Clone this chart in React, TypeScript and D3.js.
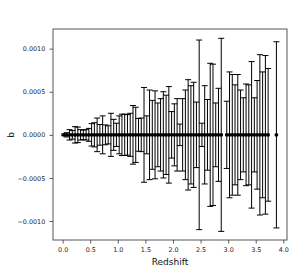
import React, { useRef, useEffect } from 'react'
import { select, scaleLinear, axisBottom, axisLeft, format } from 'd3'

// redshift bin centres and the half-width of each error bar (units of 1e-4)
const redshift = [
  0.025, 0.075, 0.125, 0.175, 0.225, 0.275, 0.325, 0.375, 0.425, 0.475,
  0.525, 0.575, 0.625, 0.675, 0.725, 0.775, 0.825, 0.875, 0.925, 0.975,
  1.025, 1.075, 1.125, 1.175, 1.225, 1.275, 1.325, 1.375, 1.425, 1.475,
  1.525, 1.575, 1.625, 1.675, 1.725, 1.775, 1.825, 1.875, 1.925, 1.975,
  2.025, 2.075, 2.125, 2.175, 2.225, 2.275, 2.325, 2.375, 2.425, 2.475,
  2.525, 2.575, 2.625, 2.675, 2.725, 2.775, 2.825, 2.875,
  2.975, 3.025, 3.075, 3.125, 3.175, 3.225, 3.275, 3.325, 3.375, 3.425,
  3.475, 3.525, 3.575, 3.625, 3.675, 3.725,
  3.875,
]
const bValue = redshift.map(() => 0)
const bError = [
  0.1, 0.25, 0.6, 0.5, 0.95, 0.9, 0.6, 0.55, 0.6, 0.75,
  1.3, 1.4, 1.95, 1.2, 2.2, 1.15, 1.05, 2.5, 1.8, 1.35,
  2.2, 2.4, 2.4, 2.35, 2.5, 3.4, 3.2, 1.9, 1.95, 5.5,
  2.2, 5.2, 4.0, 5.1, 3.7, 4.2, 5.0, 4.6, 5.6, 2.7,
  3.6, 4.2, 1.25, 4.2, 5.2, 6.4, 5.7, 6.1, 3.8, 11.0,
  1.35, 5.7, 4.1, 8.3, 8.2, 3.7, 5.4, 11.2,
  3.9, 7.3, 7.0, 5.8, 7.0, 5.2, 4.3, 5.9, 5.8, 8.5,
  4.3, 6.3, 9.3, 7.3, 9.2, 7.7,
  10.8,
]
const xTicks = [0, 0.5, 1, 1.5, 2, 2.5, 3, 3.5, 4]
const yTicks = [-0.001, -0.0005, 0, 0.0005, 0.001]

const width = 305
const height = 277
const margin = { top: 29, right: 18, bottom: 37, left: 53 }

const App = () => {
  const svgRef = useRef(null)

  useEffect(() => {
    const svg = select(svgRef.current)
    svg.selectAll('*').remove()

    const x = scaleLinear()
      .domain([-0.175, 4.067])
      .range([margin.left, width - margin.right])
    const y = scaleLinear()
      .domain([-0.00122, 0.001228])
      .range([height - margin.bottom, margin.top])

    const data = redshift.map((z, i) => ({ z, b: bValue[i], err: bError[i] * 1e-4 }))
    const cap = 3

    const bars = svg.append('g')
      .attr('stroke', '#000')
      .attr('stroke-width', 1)
    data.forEach(d => {
      const cx = x(d.z)
      bars.append('line')
        .attr('x1', cx).attr('x2', cx)
        .attr('y1', y(d.b - d.err)).attr('y2', y(d.b + d.err))
      bars.append('line')
        .attr('x1', cx - cap).attr('x2', cx + cap)
        .attr('y1', y(d.b + d.err)).attr('y2', y(d.b + d.err))
      bars.append('line')
        .attr('x1', cx - cap).attr('x2', cx + cap)
        .attr('y1', y(d.b - d.err)).attr('y2', y(d.b - d.err))
    })

    svg.append('g')
      .selectAll('circle')
      .data(data)
      .join('circle')
      .attr('cx', d => x(d.z))
      .attr('cy', d => y(d.b))
      .attr('r', 1.9)
      .attr('fill', '#000')

    const xAxis = svg.append('g')
      .attr('transform', `translate(0,${height - margin.bottom})`)
      .call(axisBottom(x).tickValues(xTicks).tickFormat(format('.1f')).tickSize(3.5).tickSizeOuter(0))
    const yAxis = svg.append('g')
      .attr('transform', `translate(${margin.left},0)`)
      .call(axisLeft(y).tickValues(yTicks).tickFormat(format('.4f')).tickSize(3.5).tickSizeOuter(0))

    ;[xAxis, yAxis].forEach(g => {
      g.select('.domain').remove()
      g.selectAll('.tick line').attr('stroke', '#333').attr('stroke-width', 0.8)
      g.selectAll('.tick text')
        .attr('font-family', 'DejaVu Sans')
        .attr('font-size', 6.4)
        .attr('fill', '#222')
    })
    xAxis.selectAll('.tick text').attr('dy', '0.9em')
    yAxis.selectAll('.tick text').attr('dx', '-0.2em')

    svg.append('rect')
      .attr('x', margin.left)
      .attr('y', margin.top)
      .attr('width', width - margin.left - margin.right)
      .attr('height', height - margin.top - margin.bottom)
      .attr('fill', 'none')
      .attr('stroke', '#444')
      .attr('stroke-width', 0.9)

    svg.append('text')
      .attr('x', (margin.left + width - margin.right) / 2)
      .attr('y', 265)
      .attr('text-anchor', 'middle')
      .attr('font-family', 'DejaVu Sans')
      .attr('font-size', 9)
      .attr('fill', '#111')
      .text('Redshift')

    svg.append('text')
      .attr('transform', `translate(14,${y(0)}) rotate(-90)`)
      .attr('text-anchor', 'middle')
      .attr('font-family', 'DejaVu Sans')
      .attr('font-size', 9)
      .attr('fill', '#111')
      .text('b')
  }, [])

  return (
    <svg
      ref={svgRef}
      width={width}
      height={height}
      style={{ position: 'absolute', left: 0, top: 0, background: '#fff' }}
    />
  )
}

export default App
